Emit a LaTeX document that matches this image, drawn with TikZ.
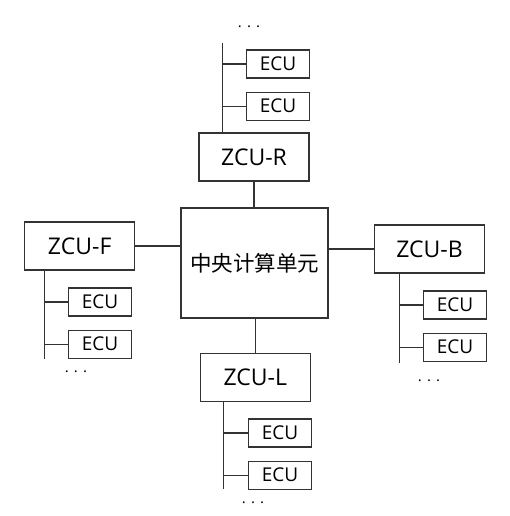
\documentclass[tikz,border=0pt]{standalone}
\usepackage{fontspec}
\setmainfont{Open Sans}
\newfontfamily\cjk{Noto Sans CJK SC}
\usetikzlibrary{positioning}

\tikzset{
  box/.style = {draw = black!80, line width = 1.1pt, fill = white, inner sep = 0pt},
  zcu/.style = {box, minimum width = 110pt, minimum height = 48pt, font = \fontsize{23}{27}\selectfont},
  ecu/.style = {box, minimum width = 63pt, minimum height = 28pt, font = \fontsize{19}{23}\selectfont},
  more/.style = {font = \fontsize{15}{18}\selectfont},
  bus/.style = {draw = black!80, line width = 1.1pt}
}

\begin{document}
\begin{tikzpicture} [x = 1pt, y = -1pt, node distance = 13pt]
        \useasboundingbox (0,0) rectangle (509,516);

        % central unit and zone controllers
        \node (cpu) [box, minimum width = 147pt, minimum height = 110pt,
        font = \cjk\fontsize{21.5}{25}\selectfont] at (254.5,263) {中央计算单元};
        \node (zr) [zcu] at (254,157) {ZCU-R}; \node (zf) [zcu] at (79.7,246)
        {ZCU-F}; \node (zb) [zcu] at (429.5,249) {ZCU-B}; \node (zl) [zcu] at
        (255.3,377.5) {ZCU-L};

        \path [bus]
            (zr.south) edge (zr.south |- cpu.north)
            (zf.east) edge (zf.east -| cpu.west)
            (zb.west) edge (zb.west -| cpu.east)
            (zl.north) edge (zl.north |- cpu.south);

        % ECUs on each zone bus
        \node (r1) [ecu] at (278,64) {ECU}; \node (r2) [ecu, below = of r1] {ECU};
        \node (f1) [ecu] at (100,302) {ECU}; \node (f2) [ecu, below = of f1] {ECU};
        \node (b1) [ecu] at (455,305) {ECU}; \node (b2) [ecu, below = of b1] {ECU};
        \node (l1) [ecu] at (280,433) {ECU}; \node (l2) [ecu, below = of l1] {ECU};

        \coordinate (rbus) at (222.7,43); \coordinate (fbus) at (44.3,359);
        \coordinate (bbus) at (399.3,363); \coordinate (lbus) at (223.3,489);

        \path [bus]
            (rbus) edge (rbus |- zr.north)
            (r1.west) edge (r1.west -| rbus) (r2.west) edge (r2.west -| rbus)
            (fbus) edge (fbus |- zf.south)
            (f1.west) edge (f1.west -| fbus) (f2.west) edge (f2.west -| fbus)
            (bbus) edge (bbus |- zb.south)
            (b1.west) edge (b1.west -| bbus) (b2.west) edge (b2.west -| bbus)
            (lbus) edge (lbus |- zl.south)
            (l1.west) edge (l1.west -| lbus) (l2.west) edge (l2.west -| lbus);

        \node (rm) [more] at (249,27) {. . .}; \node (fm) [more] at (76,372) {. . .};
        \node (bm) [more] at (429,381) {. . .}; \node (lm) [more] at (253,503) {. . .};

    \end{tikzpicture}
\end{document}
